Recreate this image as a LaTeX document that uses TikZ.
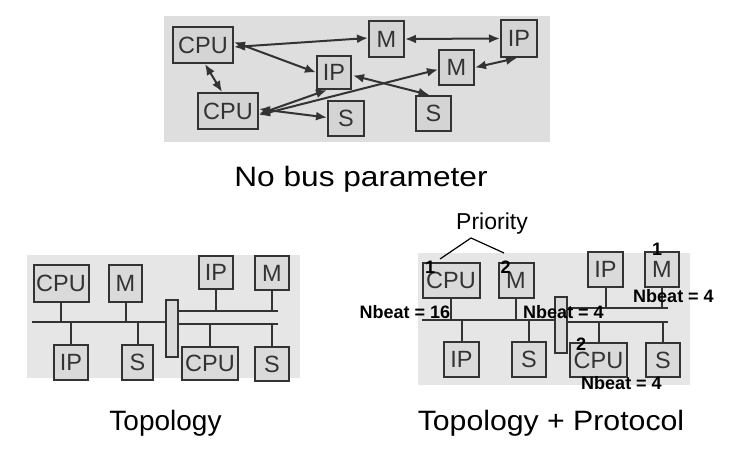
\documentclass[tikz,border=0pt]{standalone}
\usepackage{fontspec}
\setmainfont{Liberation Sans}
\usetikzlibrary{arrows.meta}
\definecolor{dk}{HTML}{333333}
\definecolor{topbg}{HTML}{DEDEDE}
\definecolor{botbg}{HTML}{E6E6E6}
\definecolor{boxfill}{HTML}{D4D4D4}
\definecolor{boxfillb}{HTML}{DADADA}
\tikzset{
  blk/.style={draw=dk, line width=2pt, fill=boxfill, inner sep=0pt,
    font=\fontsize{23.5}{23.5}\selectfont, text=dk},
  blkb/.style={blk, fill=boxfillb},
  dbl/.style={draw=dk, line width=2pt, {Latex[length=11pt,width=9pt]}-{Latex[length=11pt,width=9pt]}},
  bus/.style={draw=dk, line width=2.5pt},
  stub/.style={draw=dk, line width=2pt},
  brg/.style={draw=dk, line width=2pt, fill=boxfillb, inner sep=0pt, minimum width=12pt},
  captxt/.style={font=\fontsize{28}{28}\selectfont, anchor=base},
  nb/.style={font=\bfseries\fontsize{18}{18}\selectfont, anchor=base, inner sep=0pt},
}
\begin{document}
\begin{tikzpicture}[x=1pt,y=-1pt]
\useasboundingbox (0,0) rectangle (730,449);
% ---------- top panel ----------
\fill[topbg] (164,16) rectangle (550,142);
\node[blk, minimum width=60pt, minimum height=36pt] (cpuA) at (203,45) {CPU};
\node[blk, minimum width=35pt, minimum height=36pt] (mA) at (386.5,39) {M};
\node[blk, minimum width=36pt, minimum height=37pt] (ipA) at (519,38.5) {IP};
\node[blk, minimum width=34pt, minimum height=33pt] (ipB) at (334,72.5) {IP};
\node[blk, minimum width=35pt, minimum height=35pt] (mB) at (456.5,67.5) {M};
\node[blk, minimum width=60pt, minimum height=36pt] (cpuB) at (228,111) {CPU};
\node[blk, minimum width=36pt, minimum height=35pt] (sA) at (346,118.5) {S};
\node[blk, minimum width=35pt, minimum height=35pt] (sB) at (433.5,113.5) {S};
\draw[dbl] ([yshift=-2pt]cpuA.east) -- ([yshift=1pt]mA.west);
\draw[dbl] ([yshift=3pt]cpuA.east) -- (ipB.west);
\draw[dbl] ([xshift=2pt]cpuA.south) -- ([xshift=-6pt]cpuB.north);
\draw[dbl] (mA.east) -- (ipA.west);
\draw[dbl] (mB.east) -- ([xshift=-2pt]ipA.south);
\draw[dbl] ([xshift=1pt,yshift=-3pt]ipB.east) -- ([xshift=-4pt]sB.north);
\draw[dbl] ([yshift=-4pt]cpuB.east) -- ([yshift=-2pt]mB.west);
\draw[dbl] ([yshift=-3pt]cpuB.east) -- ([xshift=-7pt]ipB.south);
\draw[dbl] ([yshift=2pt]cpuB.east) -- ([yshift=1pt]sA.west);
\node[captxt] (t1) at (361,186) {\scalebox{1.13}[1]{No bus parameter}};
% ---------- bottom left panel ----------
\fill[botbg] (27,255) rectangle (300,378);
\node[blkb, minimum width=55pt, minimum height=37pt] (lcpu) at (61,283.5) {CPU};
\node[blkb, minimum width=33pt, minimum height=37pt] (lm) at (125.5,283.5) {M};
\node[blkb, minimum width=34pt, minimum height=33pt] (lipA) at (216,272.5) {IP};
\node[blkb, minimum width=34pt, minimum height=34pt] (lmB) at (272,273) {M};
\node[blkb, minimum width=34pt, minimum height=35pt] (lipB) at (71,362.5) {IP};
\node[blkb, minimum width=31pt, minimum height=35pt] (ls) at (137.5,362.5) {S};
\node[blkb, minimum width=56pt, minimum height=33pt] (lcpuB) at (210,363.5) {CPU};
\node[blkb, minimum width=34pt, minimum height=34pt] (lsB) at (272,364) {S};
\node[brg, minimum height=57pt] (lbr) at (172,328.5) {};
\coordinate (lbusA) at (32,322);
\coordinate (lbusAe) at (166,322);
\coordinate (lbusU) at (178,311);
\coordinate (lbusUe) at (278,311);
\coordinate (lbusL) at (178,324);
\coordinate (lbusLe) at (278,324);
\draw[bus] (lbusA) -- (lbusAe);
\draw[bus] (lbusU) -- (lbusUe);
\draw[bus] (lbusL) -- (lbusLe);
\draw[stub] (lcpu.south) -- (lcpu.south |- lbusA);
\draw[stub] (lm.south) -- (lm.south |- lbusA);
\draw[stub] (lipB.north) -- (lipB.north |- lbusA);
\draw[stub] (ls.north) -- (ls.north |- lbusA);
\draw[stub] (lipA.south) -- (lipA.south |- lbusU);
\draw[stub] (lmB.south) -- (lmB.south |- lbusU);
\draw[stub] (lcpuB.north) -- (lcpuB.north |- lbusL);
\draw[stub] (lsB.north) -- (lsB.north |- lbusL);
\node[captxt] (t2) at (165.5,430) {Topology};
% ---------- bottom right panel ----------
\fill[botbg] (418,253) rectangle (690,385);
\node[blkb, minimum width=57pt, minimum height=35pt] (rcpu) at (451,280.5) {CPU};
\node[blkb, minimum width=35pt, minimum height=35pt] (rm) at (516,280.5) {M};
\node[blkb, minimum width=35pt, minimum height=35pt] (ripA) at (605.5,269.5) {IP};
\node[blkb, minimum width=34pt, minimum height=35pt] (rmB) at (662,269.5) {M};
\node[blkb, minimum width=35pt, minimum height=35pt] (ripB) at (461.5,359.5) {IP};
\node[blkb, minimum width=34pt, minimum height=35pt] (rs) at (529,359.5) {S};
\node[blkb, minimum width=57pt, minimum height=34pt] (rcpuB) at (598.5,360) {CPU};
\node[blkb, minimum width=34pt, minimum height=34pt] (rsB) at (663,360) {S};
\node[brg, minimum height=56pt] (rbr) at (561,325) {};
\coordinate (rbusA) at (422,320);
\coordinate (rbusAe) at (555,320);
\coordinate (rbusU) at (567,308);
\coordinate (rbusUe) at (668,308);
\coordinate (rbusL) at (567,322);
\coordinate (rbusLe) at (668,322);
\draw[bus] (rbusA) -- (rbusAe);
\draw[bus] (rbusU) -- (rbusUe);
\draw[bus] (rbusL) -- (rbusLe);
\draw[stub] (rcpu.south) -- (rcpu.south |- rbusA);
\draw[stub] (rm.south) -- (rm.south |- rbusA);
\draw[stub] (ripB.north) -- (ripB.north |- rbusA);
\draw[stub] (rs.north) -- (rs.north |- rbusA);
\draw[stub] (ripA.south) -- (ripA.south |- rbusU);
\draw[stub] (rmB.south) -- (rmB.south |- rbusU);
\draw[stub] (rcpuB.north) -- (rcpuB.north |- rbusL);
\draw[stub] (rsB.north) -- (rsB.north |- rbusL);
% labels
\node[font=\fontsize{23}{23}\selectfont, anchor=base] (prio) at (492,229) {Priority};
\coordinate (apex) at (471,238);
\coordinate (pl) at (440,259);
\coordinate (pr) at (504,253);
\draw[line width=1.2pt] (pl) -- (apex) -- (pr);
\node[nb] (n1) at (430,273) {1};
\node[nb] (n2) at (505.5,273) {2};
\node[nb] (n3) at (657,255) {1};
\node[nb] (n4) at (581,350) {2};
\node[nb] (nb1) at (405,318) {Nbeat = 16};
\node[nb] (nb2) at (563.5,318) {Nbeat = 4};
\node[nb] (nb3) at (673.5,302) {Nbeat = 4};
\node[nb] (nb4) at (621.5,389) {Nbeat = 4};
\node[captxt] (t3) at (551,430) {\scalebox{1.08}[1]{Topology + Protocol}};
\end{tikzpicture}
\end{document}
